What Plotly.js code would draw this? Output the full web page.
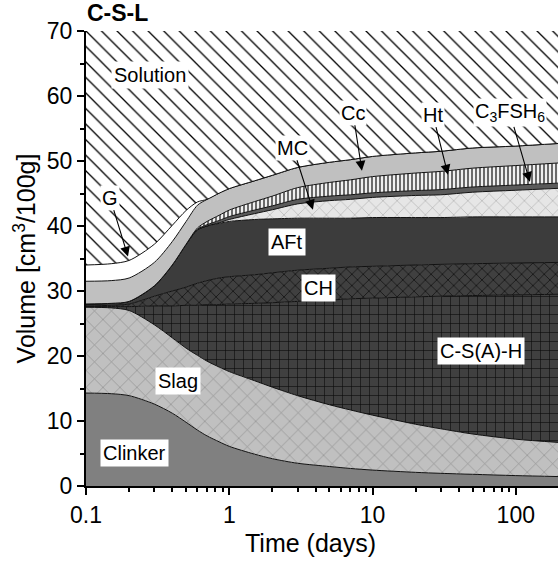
<!DOCTYPE html>
<html>
<head>
<meta charset="utf-8">
<script src="https://cdn.plot.ly/plotly-3.0.1.min.js"></script>
<style>html,body{margin:0;padding:0;background:#fff;}#chart{width:558px;height:562px;}</style>
</head>
<body>
<div id="chart"></div>
<script>
// Time (days)
const days    = [0.1, 0.15, 0.2, 0.3, 0.4, 0.5, 0.6, 0.7, 0.85, 1, 1.5, 2, 3, 5, 7, 10, 20, 30, 50, 100, 200];
// Phase volumes (cm3/100g), bottom to top
const clinker = [14.3, 14.2, 13.9, 12.6, 11.2, 9.8, 8.6, 7.7, 6.8, 6.1, 4.9, 4.2, 3.5, 3.0, 2.7, 2.45, 2.1, 1.95, 1.8, 1.6, 1.45];
const slag    = [13.2, 13.2, 13.1, 12.2, 11.6, 11.4, 11.5, 11.5, 11.5, 11.5, 11.3, 11.0, 10.4, 9.5, 9.0, 8.45, 7.4, 6.85, 6.2, 5.6, 5.25];
const csh     = [0.1, 0.2, 0.6, 2.9, 4.9, 6.6, 7.7, 8.7, 9.6, 10.4, 11.9, 13.0, 14.5, 16.1, 17.1, 18.0, 19.6, 20.4, 21.3, 22.2, 22.8];
const ch      = [0.1, 0.2, 0.4, 1.5, 2.3, 2.8, 3.4, 3.7, 4.1, 4.2, 4.4, 4.6, 4.8, 4.9, 4.9, 4.9, 4.9, 4.9, 4.9, 4.9, 4.9];
const aft     = [0.3, 0.3, 0.4, 1.6, 4.0, 6.6, 8.2, 8.4, 8.4, 8.5, 8.5, 8.3, 8.0, 7.7, 7.5, 7.5, 7.3, 7.2, 7.2, 7.1, 7.0];
const mc      = [0, 0, 0, 0, 0, 0, 0, 0, 0.1, 0.3, 0.9, 1.4, 2.2, 2.7, 2.9, 3.1, 3.4, 3.5, 3.8, 4.1, 4.4];
const c3fsh6  = [0, 0, 0, 0, 0, 0, 0.1, 0.2, 0.35, 0.45, 0.55, 0.6, 0.7, 0.7, 0.7, 0.7, 0.75, 0.8, 0.8, 0.8, 0.8];
const ht      = [0, 0, 0, 0, 0, 0, 0.2, 0.5, 0.8, 1.0, 1.3, 1.5, 1.8, 2.1, 2.3, 2.5, 2.7, 2.8, 2.9, 3.0, 3.1];
const cc      = [3.5, 3.5, 3.6, 3.6, 3.6, 3.5, 3.5, 3.4, 3.4, 3.3, 3.2, 3.2, 3.1, 3.1, 3.1, 3.1, 3.1, 3.1, 3.1, 3.0, 3.0];
const gypsum  = [2.5, 2.6, 2.7, 2.8, 2.5, 1.7, 0.5, 0, 0, 0, 0, 0, 0, 0, 0, 0, 0, 0, 0, 0, 0];

const xTickVals = [0.1, 1, 10, 100];
const xTickText = ['0.1', '1', '10', '100'];
const yMax = 70;

const layers = [
  {name:'Clinker', v:clinker, bg:'#808080', fg:'#808080', shape:''},
  {name:'Slag', v:slag, bg:'#c0c0c0', fg:'#8a8a8a', shape:'x', size:12, sol:0.1},
  {name:'C-S(A)-H', v:csh, bg:'#404040', fg:'#0a0a0a', shape:'+', size:9, sol:0.13},
  {name:'CH', v:ch, bg:'#404040', fg:'#0a0a0a', shape:'x', size:8, sol:0.16},
  {name:'AFt', v:aft, bg:'#3c3c3c', fg:'#3c3c3c', shape:''},
  {name:'MC', v:mc, bg:'#e6e6e6', fg:'#a0a0a0', shape:'x', size:10, sol:0.1},
  {name:'C3FSH6', v:c3fsh6, bg:'#5a5a5a', fg:'#5a5a5a', shape:''},
  {name:'Ht', v:ht, bg:'#f0f0f0', fg:'#111111', shape:'|', size:4, sol:0.3},
  {name:'Cc', v:cc, bg:'#c0c0c0', fg:'#c0c0c0', shape:''},
  {name:'G', v:gypsum, bg:'#ffffff', fg:'#ffffff', shape:''}
];

const traces = [];
let cum = days.map(() => 0);
layers.forEach((L, i) => {
  cum = cum.map((c, k) => c + L.v[k]);
  const t = {
    x: days, y: cum.slice(), type:'scatter', mode:'lines', name:L.name,
    line:{color:'#111111', width:1, shape:'spline', smoothing:0.8},
    fill: i === 0 ? 'tozeroy' : 'tonexty',
    fillcolor: L.bg, showlegend:false, hoverinfo:'skip'
  };
  if (L.shape) {
    t.fillpattern = {shape:L.shape, bgcolor:L.bg, fgcolor:L.fg, size:L.size, solidity:L.sol, fillmode:'replace'};
  }
  traces.push(t);
});
// Solution fills to the top of the axis
traces.push({
  x: days, y: days.map(() => yMax + 5), type:'scatter', mode:'lines', name:'Solution',
  line:{color:'rgba(0,0,0,0)', width:0}, fill:'tonexty', fillcolor:'#ffffff',
  fillpattern:{shape:'\\', bgcolor:'#ffffff', fgcolor:'#000000', size:11, solidity:0.12, fillmode:'replace'},
  showlegend:false, hoverinfo:'skip'
});

const font = {family:'Liberation Sans, Arial, sans-serif', color:'#000'};
const lab = (text, x, y) => ({text, x, y, xref:'x', yref:'y', showarrow:false, bgcolor:'#ffffff',
  font:{...font, size:20}, borderpad:2});
const arr = (text, x, y, ax, ay) => ({text, x, y, xref:'x', yref:'y', ax, ay, showarrow:true,
  arrowhead:2, arrowsize:1.8, arrowwidth:1.1, arrowcolor:'#000', bgcolor:'#ffffff',
  font:{...font, size:20}, borderpad:1, standoff:0});

const layout = {
  width:558, height:562,
  margin:{l:86, r:0, t:31, b:76},
  paper_bgcolor:'#ffffff', plot_bgcolor:'#ffffff',
  font:font,
  title:{text:'<b>C-S-L</b>', x:87/558, xanchor:'left', xref:'container', y:1-13/562, yanchor:'middle', yref:'container', font:{...font, size:23}},
  xaxis:{
    type:'log', range:[-1, Math.log10(197)], tickvals:xTickVals, ticktext:xTickText,
    ticks:'outside', ticklen:7, tickwidth:2, tickcolor:'#000',
    showline:true, linewidth:2, linecolor:'#000', showgrid:false, zeroline:false,
    tickfont:{...font, size:23},
    minor:{tickvals:[0.2,0.3,0.4,0.5,0.6,0.7,0.8,0.9,2,3,4,5,6,7,8,9,20,30,40,50,60,70,80,90,200], ticks:'outside', ticklen:4, tickwidth:2, tickcolor:'#000', showgrid:false}
  },
  yaxis:{
    range:[0, yMax], dtick:10, tick0:0,
    ticks:'outside', ticklen:7, tickwidth:2, tickcolor:'#000',
    showline:true, linewidth:2, linecolor:'#000', showgrid:false, zeroline:false,
    tickfont:{...font, size:23},
    minor:{dtick:5, ticks:'outside', ticklen:4, tickwidth:2, tickcolor:'#000', showgrid:false},
    title:{text:'Volume [cm<sup>3</sup>/100g]', font:{...font, size:25}, standoff:4}
  },
  annotations:[
    {text:'Time (days)', xref:'paper', yref:'paper', x:(310-86)/472, y:(486-543)/455, xanchor:'center', yanchor:'middle', showarrow:false, font:{...font, size:25}},
    lab('Solution', -0.553, 63.2),
    lab('Clinker', -0.66, 5.1),
    lab('Slag', -0.36, 16.2),
    lab('C-S(A)-H', 1.756, 20.8),
    lab('CH', 0.62, 30.4),
    lab('AFt', 0.40, 37.5),
    arr('G', -0.707, 35.3, -18, -59),
    arr('MC', 0.584, 42.5, -20, -62),
    arr('Cc', 0.926, 48.5, -9, -58),
    arr('Ht', 1.526, 47.9, -15, -60),
    arr('C<sub>3</sub>FSH<sub>6</sub>', 2.098, 46.8, -20, -69)
  ]
};

Plotly.newPlot('chart', traces, layout, {displayModeBar:false, staticPlot:true});
</script>
</body>
</html>
